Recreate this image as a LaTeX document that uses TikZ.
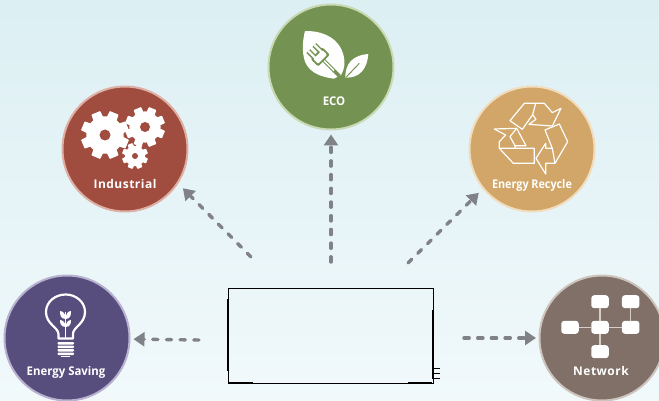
\documentclass[tikz,border=0pt]{standalone}
\usepackage{fontspec}
\setmainfont{Open Sans}
\usetikzlibrary{arrows.meta}
\definecolor{arrowgray}{RGB}{128,130,135}
\definecolor{ecogreen}{RGB}{116,147,82}
\definecolor{ecoring}{RGB}{201,217,180}
\definecolor{indred}{RGB}{160,76,63}
\definecolor{indring}{RGB}{222,175,165}
\definecolor{recytan}{RGB}{209,166,104}
\definecolor{recyring}{RGB}{241,221,190}
\definecolor{savepurple}{RGB}{87,78,125}
\definecolor{savering}{RGB}{184,178,208}
\definecolor{netbrown}{RGB}{128,112,104}
\definecolor{netring}{RGB}{206,196,190}
\definecolor{netline}{RGB}{214,206,200}
\definecolor{bgtop}{RGB}{220,239,243}
\definecolor{bgbottom}{RGB}{241,249,251}
\tikzset{
  badge/.style={circle,draw,line width=2pt,inner sep=0pt,minimum size=125pt},
  caption/.style={text=white,font=\bfseries\fontsize{12}{13}\selectfont,inner sep=0pt},
  flowarrow/.style={draw=arrowgray,line width=3.4pt,line cap=round,dash pattern=on 5.2pt off 8.5pt,-{Triangle[length=11pt,width=14pt]}},
  netbox/.style={fill=white,rounded corners=3pt,minimum width=17.5pt,minimum height=13pt,inner sep=0pt},
  netlink/.style={draw=netline,line width=1.3pt},
  recyline/.style={draw=white,line width=1.2pt,line join=round},
  cog/.pic={
    \fill[white] (0,0) circle(.78);
    \foreach \a in {0,45,...,315}
      \fill[white,rotate=\a+22.5,rounded corners=.6pt] (-.26,0)--(-.2,1)--(.2,1)--(.26,0)--cycle;
  },
}
\begin{document}
\begin{tikzpicture}[x=1pt,y=-1pt]
\useasboundingbox (0,0) rectangle (659,401);
\shade[top color=bgtop,bottom color=bgbottom] (0,0) rectangle (659,401);

% circles
\node[badge,fill=ecogreen,draw=ecoring] (eco) at (331,67) {};
\node[badge,fill=indred,draw=indring] (industrial) at (125,149) {};
\node[badge,fill=recytan,draw=recyring] (recycle) at (532,149) {};
\node[badge,fill=savepurple,draw=savering] (saving) at (67,338) {};
\node[badge,fill=netbrown,draw=netring] (network) at (602,338) {};

\node[caption] (ecotext) at (334,101) {\addfontfeature{FakeStretch=.95}ECO};
\node[caption] (industrialtext) at (125,184.5) {\addfontfeature{LetterSpace=4}Industrial};
\node[caption] (recycletext) at (532,185) {\addfontfeature{FakeStretch=.9}Energy Recycle};
\node[caption] (savingtext) at (66,372) {\addfontfeature{FakeStretch=.95}Energy Saving};
\node[caption] (networktext) at (601,371) {\addfontfeature{LetterSpace=4}Network};

% middle box
\node[draw=black,line width=.8pt,minimum width=205pt,minimum height=95pt,inner sep=0pt] (hub) at (330.5,335.5) {};
\draw[line width=1.4pt] (228,299)--(228,371);
\draw[line width=1.4pt] (229,382.5)--(253,382.5);
\draw[line width=1.4pt] (408,382.5)--(432,382.5);
\draw[line width=1.4pt] (433,310)--(433,379);
\draw[line width=1pt] (433,368)--(440,368) (433,373)--(440,373) (433,378.5)--(440,378.5);

% arrows
\coordinate (fromeco) at (331,262);
\coordinate (fromindustrial) at (251,257);
\coordinate (fromrecycle) at (408,263);
\coordinate (fromsaving) at (199,340);
\coordinate (fromnetwork) at (464,338);
\draw[flowarrow,shorten >=4pt] (fromeco)--(eco.south);
\draw[flowarrow,shorten >=6.6pt] (fromindustrial)--(industrial.-33.3);
\draw[flowarrow,shorten >=5.5pt] (fromrecycle)--(recycle.219.1);
\draw[flowarrow,shorten >=3pt] (fromsaving)--(saving.-1.8);
\draw[flowarrow,shorten >=2.5pt] (fromnetwork)--(network.west);

% leaves
\begin{scope}[x=.3333pt,y=-.3333pt,xshift=260pt]
\fill[white] (135,93) .. controls (175,92) and (225,105) .. (245,150) .. controls (258,180) and (255,205) .. (243,225)--(222,236) .. controls (190,232) and (150,222) .. (135,185) .. controls (125,155) and (128,120) .. (135,93)--cycle;
\fill[white] (325,162) .. controls (280,165) and (255,190) .. (256,233) .. controls (300,235) and (322,205) .. (325,162)--cycle;
\draw[ecogreen,line width=1pt] (258,232)--(298,190);
\begin{scope}[shift={(178,168)},rotate=-45]
\draw[ecogreen,line width=3.6pt] (14,0)--(85,0);
\draw[white,line width=1.5pt] (14,0)--(62,0);
\fill[ecogreen,rounded corners=2pt] (-12,-25) rectangle (20,25);
\fill[white,rounded corners=1pt] (-6,-19) rectangle (14,19);
\fill[ecogreen] (-34,-21) rectangle (-10,-5) (-34,5) rectangle (-10,21);
\fill[white] (-34,-16.5) rectangle (-4,-9.5) (-34,9.5) rectangle (-4,16.5);
\end{scope}
\end{scope}

% gears
\pic[scale=24] at (105,135) {cog};
\fill[indred] (105,135) circle(5.5);
\pic[scale=20] at (145,127) {cog};
\fill[indred] (145,127) circle(5);
\pic[scale=13] at (135,156) {cog};
\fill[indred] (135,156) circle(3);

% recycling arrows
\begin{scope}[x=.3333pt,y=-.3333pt,xshift=465pt,yshift=-80pt]
\draw[recyline] (135,122)--(178,70)--(238,70)--(262,98)--(288,85)--(262,138)--(192,133)--(213,118)--(203,104)--(172,148)--cycle;
\draw[recyline] (212,70)--(203,104);
\draw[recyline] (88,147)--(155,145)--(183,197)--(150,197)--(150,205);
\draw[recyline] (155,145)--(135,170)--(150,197);
\draw[recyline] (88,147)--(122,165)--(103,185)--(103,205)--(145,250)--(208,250)--(208,205)--(103,205);
\draw[recyline] (240,150)--(283,132)--(308,185)--(270,250)--(242,250)--(242,282)--(213,235)--(242,190)--(242,205)--(262,205)--cycle;
\draw[recyline] (262,205)--(270,250);
\end{scope}

% light bulb
\draw[white,line width=2.2pt,line join=round] (58.5,338.5)--(58.5,334) .. controls (58,327) and (46,324) .. (46,312) .. controls (46,302) and (55,294.5) .. (65.7,294.5) .. controls (76,294.5) and (85,302) .. (85,312) .. controls (85,324) and (73,327) .. (73,334)--(73,338.5)--cycle;
\draw[white,line width=1.2pt] (65.7,312)--(65.7,338);
\fill[white] (65.7,319) .. controls (60,319) and (60,314) .. (60,311) .. controls (63,311) and (65.7,314) .. (65.7,319)--cycle;
\fill[white] (65.7,319) .. controls (71,319) and (71,314) .. (71,311) .. controls (68,311) and (65.7,314) .. (65.7,319)--cycle;
\fill[white] (65.7,327) .. controls (60,327) and (60,322) .. (60,320) .. controls (63,320) and (65.7,323) .. (65.7,327)--cycle;
\fill[white] (65.7,327) .. controls (71,327) and (71,322) .. (71,320) .. controls (68,320) and (65.7,323) .. (65.7,327)--cycle;
\foreach \y in {342,345.5,349,352.5}
  \fill[white,rounded corners=.8pt] (57.5,\y) rectangle (74,\y+2.5);
\fill[white] (61,355.5) rectangle (70,357);

% network
\node[netbox] (nettop) at (600,301.7) {};
\node[netbox] (netright) at (630.7,301.7) {};
\node[netbox] (netleft) at (570,327.3) {};
\node[netbox] (netmid) at (600,327.3) {};
\node[netbox] (netend) at (630.7,327.3) {};
\node[netbox] (netlow) at (600,351.7) {};
\draw[netlink] (nettop)--(netmid);
\draw[netlink] (netright)--(netend);
\draw[netlink] (netleft)--(netmid);
\draw[netlink] (netmid)--(netend);
\draw[netlink] (netmid)--(netlow);
\end{tikzpicture}
\end{document}
